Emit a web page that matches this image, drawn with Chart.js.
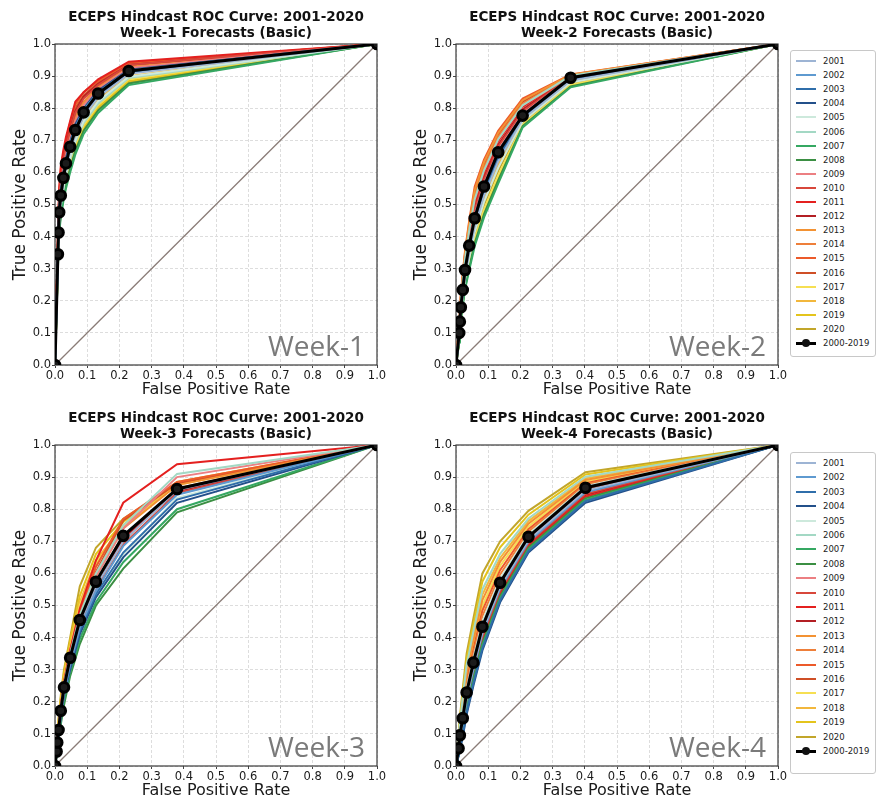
<!DOCTYPE html>
<html><head><meta charset="utf-8">
<script src="https://cdn.jsdelivr.net/npm/chart.js@4/dist/chart.umd.min.js"></script>
<style>
html,body{margin:0;padding:0;background:#fff;overflow:hidden;width:876px;height:798px;}
.panel{position:absolute;width:432px;height:400px;}
.legend{position:absolute;left:790px;width:84px;border:1px solid #c8c8c8;border-radius:3px;background:#fff;font-family:'DejaVu Sans';font-size:8.5px;color:#222;}
.row{position:absolute;left:0;height:12px;width:84px;}
.sw{position:absolute;left:5px;width:20px;top:5px;height:2px;}
.lab{position:absolute;left:32px;top:0;line-height:12px;white-space:nowrap;}
.dot{position:absolute;left:11px;top:2px;width:8px;height:8px;border-radius:50%;background:#111;}
</style></head><body>
<div class="panel" style="left:0;top:0"><canvas id="c1" width="432" height="400"></canvas></div>
<div class="panel" style="left:401px;top:0"><canvas id="c2" width="432" height="400"></canvas></div>
<div class="panel" style="left:0;top:401px"><canvas id="c3" width="432" height="400"></canvas></div>
<div class="panel" style="left:401px;top:401px"><canvas id="c4" width="432" height="400"></canvas></div>
<div class="legend" id="leg1" style="top:50px;height:305px"></div>
<div class="legend" id="leg2" style="top:452px;height:320px"></div>
<script>
const years = [2001,2002,2003,2004,2005,2006,2007,2008,2009,2010,2011,2012,2013,2014,2015,2016,2017,2018,2019,2020];
const yearColors = ['#9db4d4','#5e9ad0','#2f6eaa','#23508a','#cde9dc','#a3d8c4','#35a862','#3b8f43','#ec7f82','#d8473b','#e4201f','#b31f24','#f39233','#ee7f3a','#ec5a2a','#cf4f26','#f6df52','#f2b73c','#e4c41c','#c2a62a'];
const meanLabel = '2000-2019';
const tickValues = [0,0.1,0.2,0.3,0.4,0.5,0.6,0.7,0.8,0.9,1.0];
const diagFpr = [0,1];
const diagTpr = [0,1];

// Week-1
const fprW1 = [0,0.009,0.011,0.013,0.018,0.026,0.034,0.047,0.063,0.089,0.134,0.229,1];
const meanW1 = [0,0.345,0.413,0.476,0.528,0.583,0.628,0.68,0.732,0.787,0.846,0.916,1];
const tprW1 = [
[0,0.335,0.40,0.465,0.515,0.57,0.613,0.664,0.717,0.774,0.834,0.907,1],
[0,0.35,0.42,0.485,0.535,0.59,0.635,0.69,0.74,0.795,0.85,0.918,1],
[0,0.34,0.41,0.47,0.52,0.575,0.62,0.672,0.725,0.78,0.84,0.912,1],
[0,0.36,0.43,0.49,0.545,0.60,0.645,0.695,0.75,0.80,0.855,0.92,1],
[0,0.325,0.39,0.45,0.50,0.553,0.597,0.648,0.70,0.76,0.822,0.898,1],
[0,0.32,0.385,0.443,0.494,0.546,0.59,0.64,0.694,0.754,0.815,0.894,1],
[0,0.30,0.36,0.41,0.46,0.51,0.55,0.60,0.655,0.72,0.785,0.872,1],
[0,0.305,0.367,0.42,0.47,0.52,0.56,0.612,0.667,0.73,0.793,0.877,1],
[0,0.36,0.43,0.50,0.555,0.61,0.655,0.705,0.76,0.81,0.86,0.925,1],
[0,0.38,0.45,0.52,0.58,0.635,0.68,0.73,0.785,0.83,0.872,0.935,1],
[0,0.40,0.48,0.55,0.62,0.67,0.71,0.76,0.82,0.85,0.89,0.945,1],
[0,0.38,0.46,0.53,0.59,0.64,0.685,0.735,0.79,0.835,0.875,0.935,1],
[0,0.37,0.44,0.50,0.56,0.615,0.66,0.71,0.765,0.815,0.865,0.928,1],
[0,0.37,0.44,0.51,0.57,0.625,0.67,0.72,0.775,0.82,0.868,0.93,1],
[0,0.39,0.47,0.54,0.61,0.66,0.70,0.755,0.81,0.85,0.885,0.94,1],
[0,0.39,0.46,0.53,0.60,0.65,0.69,0.745,0.80,0.84,0.88,0.94,1],
[0,0.318,0.38,0.436,0.487,0.539,0.582,0.632,0.686,0.747,0.81,0.89,1],
[0,0.33,0.395,0.455,0.505,0.56,0.605,0.656,0.71,0.767,0.828,0.90,1],
[0,0.313,0.376,0.43,0.48,0.532,0.573,0.624,0.678,0.74,0.803,0.885,1],
[0,0.31,0.37,0.423,0.474,0.525,0.566,0.616,0.67,0.734,0.797,0.88,1]
];

// Week-2
const fprW2 = [0,0.01,0.012,0.015,0.021,0.028,0.041,0.058,0.087,0.131,0.207,0.356,1];
const meanW2 = [0,0.10,0.135,0.18,0.234,0.296,0.372,0.457,0.556,0.663,0.777,0.895,1];
const tprW2 = [
[0,0.091,0.125,0.168,0.219,0.278,0.349,0.431,0.527,0.634,0.766,0.886,1],
[0,0.102,0.137,0.181,0.236,0.298,0.374,0.46,0.558,0.665,0.779,0.895,1],
[0,0.094,0.128,0.172,0.224,0.284,0.357,0.44,0.537,0.643,0.77,0.889,1],
[0,0.097,0.132,0.176,0.229,0.29,0.364,0.448,0.546,0.653,0.773,0.892,1],
[0,0.085,0.118,0.16,0.21,0.266,0.334,0.414,0.508,0.614,0.759,0.88,1],
[0,0.118,0.156,0.204,0.265,0.331,0.419,0.516,0.606,0.703,0.809,0.901,1],
[0,0.07,0.10,0.14,0.185,0.235,0.295,0.37,0.46,0.565,0.74,0.865,1],
[0,0.073,0.104,0.144,0.19,0.241,0.303,0.379,0.47,0.575,0.744,0.868,1],
[0,0.103,0.139,0.184,0.239,0.302,0.38,0.467,0.564,0.67,0.782,0.896,1],
[0,0.108,0.144,0.19,0.247,0.311,0.392,0.482,0.577,0.68,0.79,0.898,1],
[0,0.115,0.153,0.20,0.26,0.326,0.411,0.506,0.598,0.697,0.804,0.90,1],
[0,0.11,0.147,0.194,0.252,0.317,0.399,0.491,0.585,0.686,0.796,0.899,1],
[0,0.127,0.167,0.216,0.28,0.349,0.442,0.545,0.632,0.723,0.825,0.904,1],
[0,0.121,0.16,0.208,0.27,0.337,0.427,0.526,0.615,0.71,0.814,0.902,1],
[0,0.13,0.17,0.22,0.285,0.355,0.45,0.555,0.64,0.73,0.83,0.905,1],
[0,0.124,0.163,0.212,0.275,0.343,0.434,0.535,0.623,0.717,0.82,0.903,1],
[0,0.078,0.109,0.15,0.197,0.25,0.314,0.392,0.484,0.59,0.749,0.873,1],
[0,0.088,0.121,0.164,0.214,0.272,0.341,0.422,0.518,0.624,0.762,0.883,1],
[0,0.075,0.105,0.146,0.192,0.244,0.307,0.383,0.474,0.58,0.746,0.87,1],
[0,0.082,0.114,0.156,0.205,0.259,0.326,0.405,0.498,0.604,0.755,0.877,1]
];

// Week-3
const fprW3 = [0,0.005,0.007,0.011,0.018,0.028,0.047,0.077,0.127,0.212,0.379,1];
const meanW3 = [0,0.045,0.073,0.112,0.172,0.245,0.337,0.455,0.574,0.717,0.863,1];
const tprW3 = [
[0,0.042,0.07,0.108,0.166,0.238,0.328,0.445,0.56,0.70,0.86,1],
[0,0.04,0.066,0.102,0.158,0.228,0.318,0.43,0.545,0.685,0.845,1],
[0,0.038,0.064,0.10,0.155,0.225,0.31,0.42,0.535,0.665,0.83,1],
[0,0.036,0.06,0.095,0.15,0.218,0.30,0.41,0.525,0.65,0.82,1],
[0,0.038,0.062,0.098,0.152,0.22,0.305,0.415,0.53,0.66,0.835,1],
[0,0.05,0.08,0.12,0.18,0.255,0.35,0.47,0.60,0.75,0.91,1],
[0,0.032,0.055,0.088,0.14,0.205,0.29,0.395,0.51,0.635,0.80,1],
[0,0.03,0.05,0.08,0.13,0.19,0.28,0.38,0.50,0.615,0.79,1],
[0,0.048,0.077,0.117,0.178,0.25,0.345,0.465,0.59,0.74,0.90,1],
[0,0.04,0.068,0.105,0.16,0.23,0.32,0.43,0.545,0.69,0.85,1],
[0,0.05,0.08,0.12,0.185,0.26,0.36,0.49,0.64,0.82,0.94,1],
[0,0.045,0.07,0.108,0.165,0.235,0.325,0.44,0.555,0.71,0.855,1],
[0,0.05,0.078,0.118,0.18,0.25,0.345,0.465,0.59,0.74,0.875,1],
[0,0.045,0.072,0.11,0.17,0.24,0.33,0.445,0.56,0.70,0.865,1],
[0,0.055,0.085,0.125,0.19,0.265,0.36,0.48,0.62,0.77,0.885,1],
[0,0.05,0.08,0.12,0.18,0.255,0.35,0.47,0.605,0.765,0.88,1],
[0,0.055,0.085,0.13,0.195,0.27,0.365,0.50,0.63,0.745,0.875,1],
[0,0.06,0.09,0.135,0.20,0.28,0.375,0.51,0.64,0.75,0.88,1],
[0,0.065,0.095,0.14,0.21,0.29,0.39,0.53,0.66,0.76,0.885,1],
[0,0.07,0.10,0.15,0.22,0.30,0.40,0.56,0.68,0.77,0.88,1]
];

// Week-4
const fprW4 = [0,0.008,0.012,0.021,0.033,0.054,0.082,0.137,0.225,0.402,1];
const meanW4 = [0,0.055,0.096,0.149,0.229,0.322,0.434,0.571,0.714,0.867,1];
const tprW4 = [
[0,0.05,0.087,0.137,0.215,0.308,0.419,0.559,0.704,0.858,1],
[0,0.048,0.082,0.131,0.208,0.30,0.412,0.553,0.699,0.853,1],
[0,0.033,0.055,0.096,0.167,0.257,0.367,0.516,0.67,0.825,1],
[0,0.03,0.05,0.09,0.16,0.25,0.36,0.51,0.665,0.82,1],
[0,0.06,0.101,0.158,0.241,0.336,0.451,0.584,0.722,0.872,1],
[0,0.087,0.134,0.213,0.314,0.419,0.55,0.661,0.771,0.901,1],
[0,0.035,0.059,0.102,0.174,0.264,0.375,0.522,0.675,0.829,1],
[0,0.038,0.064,0.108,0.181,0.272,0.382,0.528,0.68,0.834,1],
[0,0.056,0.097,0.15,0.23,0.324,0.436,0.573,0.716,0.867,1],
[0,0.045,0.078,0.125,0.201,0.293,0.404,0.547,0.694,0.848,1],
[0,0.04,0.068,0.114,0.188,0.279,0.39,0.534,0.685,0.839,1],
[0,0.043,0.073,0.12,0.195,0.286,0.397,0.541,0.69,0.844,1],
[0,0.078,0.123,0.195,0.29,0.391,0.517,0.636,0.755,0.891,1],
[0,0.064,0.107,0.167,0.253,0.35,0.467,0.597,0.73,0.877,1],
[0,0.069,0.112,0.176,0.265,0.363,0.484,0.61,0.738,0.881,1],
[0,0.053,0.091,0.143,0.222,0.315,0.427,0.565,0.709,0.862,1],
[0,0.073,0.118,0.185,0.277,0.377,0.50,0.623,0.746,0.886,1],
[0,0.082,0.128,0.204,0.302,0.405,0.534,0.648,0.763,0.896,1],
[0,0.093,0.142,0.226,0.332,0.439,0.575,0.681,0.783,0.908,1],
[0,0.10,0.15,0.24,0.35,0.46,0.60,0.70,0.795,0.915,1]
];

const titleLine1 = 'ECEPS Hindcast ROC Curve: 2001-2020';

const framePlugin = {
  id: 'frame',
  beforeDatasetsDraw(chart) {
    const {ctx, chartArea: a} = chart;
    ctx.save();
    ctx.strokeStyle = '#3a3a3a';
    ctx.lineWidth = 1.2;
    ctx.strokeRect(a.left, a.top, a.right - a.left, a.bottom - a.top);
    ctx.restore();
  }
};
const weekPlugin = {
  id: 'weekLabel',
  afterDatasetsDraw(chart, args, opts) {
    const {ctx, chartArea: a} = chart;
    ctx.save();
    ctx.font = '28px "Open Sans"';
    ctx.fillStyle = '#7a7a7a';
    ctx.textAlign = 'right';
    ctx.textBaseline = 'alphabetic';
    ctx.fillText(opts.text, a.right - 12, a.bottom - 9);
    ctx.restore();
  }
};

function pts(xs, ys) { return xs.map((x, i) => ({x: x, y: ys[i]})); }

function makeChart(id, fpr, mean, tprYears, title2, week) {
  const datasets = [];
  datasets.push({label: meanLabel, data: pts(fpr, mean), borderColor: '#000', backgroundColor: '#111',
    borderWidth: 3, pointRadius: 4.8, pointBackgroundColor: '#1b1b1b', pointBorderColor: '#000', order: 0, yAxisID: 'y'});
  tprYears.forEach((arr, k) => datasets.push({label: String(years[k]), data: pts(fpr, arr),
    borderColor: yearColors[k], borderWidth: 2, pointRadius: 0, order: 1, yAxisID: 'y'}));
  datasets.push({label: 'diag', data: pts(diagFpr, diagTpr), borderColor: '#8a7c77', borderWidth: 1.3, pointRadius: 0, order: 2, yAxisID: 'y'});
  const axisFont = {family: 'DejaVu Sans', size: 11.5};
  return new Chart(document.getElementById(id), {
    type: 'line',
    data: {datasets},
    plugins: [framePlugin, weekPlugin],
    options: {
      responsive: false, animation: false, devicePixelRatio: 1,
      layout: {padding: 0},
      elements: {line: {tension: 0}},
      plugins: {
        legend: {display: false}, tooltip: {enabled: false},
        title: {display: true, text: [titleLine1, title2], color: '#111',
          font: {family: 'DejaVu Sans', size: 13.5, weight: 'bold', lineHeight: 1.2},
          padding: {top: 9.5, bottom: 2.1}},
        weekLabel: {text: week}
      },
      scales: {
        x: {type: 'linear', min: 0, max: 1,
          afterBuildTicks(s) { s.ticks = tickValues.map(v => ({value: v})); },
          ticks: {callback: v => v.toFixed(1), font: axisFont, color: '#1a1a1a', padding: 1, maxRotation: 0, autoSkip: false},
          grid: {color: '#dddddd', tickLength: 3, tickColor: '#444'},
          border: {display: false, dash: [3, 2]},
          title: {display: true, text: 'False Positive Rate', font: {family: 'DejaVu Sans', size: 16}, color: '#1a1a1a', padding: {top: 0, bottom: 1}},
          afterFit(s) { s.height = 35; }
        },
        y: {type: 'linear', position: 'left', min: 0, max: 1,
          afterBuildTicks(s) { s.ticks = tickValues.map(v => ({value: v})); },
          ticks: {callback: v => v.toFixed(1), font: axisFont, color: '#1a1a1a', padding: 1, autoSkip: false},
          grid: {color: '#dddddd', tickLength: 3, tickColor: '#444'},
          border: {display: false, dash: [3, 2]},
          title: {display: true, text: 'True Positive Rate', font: {family: 'DejaVu Sans', size: 17}, color: '#1a1a1a', padding: {top: 10, bottom: 0}},
          afterFit(s) { s.width = 55; }
        },
        yR: {type: 'linear', position: 'right', min: 0, max: 1,
          grid: {display: false, drawTicks: false}, ticks: {display: false}, border: {display: false},
          afterFit(s) { s.width = 55; }
        }
      }
    }
  });
}

makeChart('c1', fprW1, meanW1, tprW1, 'Week-1 Forecasts (Basic)', 'Week-1');
makeChart('c2', fprW2, meanW2, tprW2, 'Week-2 Forecasts (Basic)', 'Week-2');
makeChart('c3', fprW3, meanW3, tprW3, 'Week-3 Forecasts (Basic)', 'Week-3');
makeChart('c4', fprW4, meanW4, tprW4, 'Week-4 Forecasts (Basic)', 'Week-4');

function buildLegend(id, step) {
  const box = document.getElementById(id);
  const labels = years.map(String).concat([meanLabel]);
  labels.forEach((lab, i) => {
    const row = document.createElement('div');
    row.className = 'row';
    row.style.top = (4 + i * step) + 'px';
    const sw = document.createElement('div');
    sw.className = 'sw';
    if (i < years.length) {
      sw.style.background = yearColors[i];
    } else {
      sw.style.background = '#000';
      sw.style.height = '3px';
      const dot = document.createElement('div');
      dot.className = 'dot';
      row.appendChild(dot);
    }
    row.insertBefore(sw, row.firstChild);
    const t = document.createElement('div');
    t.className = 'lab';
    t.textContent = lab;
    row.appendChild(t);
    box.appendChild(row);
  });
}
buildLegend('leg1', 14.1);
buildLegend('leg2', 14.4);
</script>
</body></html>
